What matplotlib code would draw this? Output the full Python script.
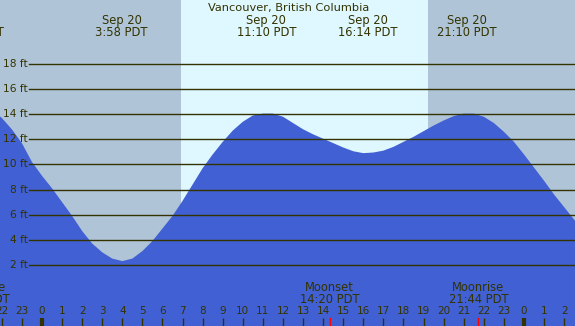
import numpy as np
import matplotlib
matplotlib.use("Agg")
import matplotlib.pyplot as plt

# tide heights (ft), every half hour (hours since Sep 20 00:00)
hours = [-2.5, -2.0, -1.5, -1.0, -0.5, 0.0, 0.5, 1.0, 1.5, 2.0, 2.5, 3.0, 3.5, 4.0,
         4.5, 5.0, 5.5, 6.0, 6.5, 7.0, 7.5, 8.0, 8.5, 9.0, 9.5, 10.0, 10.5, 11.0,
         11.5, 12.0, 12.5, 13.0, 13.5, 14.0, 14.5, 15.0, 15.5, 16.0, 16.5, 17.0,
         17.5, 18.0, 18.5, 19.0, 19.5, 20.0, 20.5, 21.0, 21.5, 22.0, 22.5, 23.0,
         23.5, 24.0, 24.5, 25.0, 25.5, 26.0, 26.5, 27.0]
heights = [14.4, 13.7, 12.8, 11.7, 10.2, 9.1, 8.1, 7.0, 5.9, 4.7, 3.7, 3.0, 2.5, 2.3,
           2.5, 3.1, 3.9, 4.9, 5.9, 7.1, 8.4, 9.7, 10.8, 11.8, 12.7, 13.4, 13.9, 14.05,
           14.05, 13.8, 13.3, 12.8, 12.4, 12.05, 11.7, 11.35, 11.05, 10.9, 10.95, 11.1,
           11.4, 11.8, 12.2, 12.65, 13.1, 13.5, 13.85, 14.05, 14.05, 13.8, 13.3, 12.6,
           11.8, 10.8, 9.75, 8.7, 7.6, 6.6, 5.6, 4.7]

# tide extremes shown on top
event_hours = [-3.4, 3.97, 11.17, 16.23, 21.17]
event_labels = ["Sep 19\n20:35 PDT", "Sep 20\n3:58 PDT", "Sep 20\n11:10 PDT",
                "Sep 20\n16:14 PDT", "Sep 20\n21:10 PDT"]

# moon events shown at the bottom
moon_hours = [-3.07, 14.33, 21.73]
moon_labels = ["Moonrise\n20:56 PDT", "Moonset\n14:20 PDT", "Moonrise\n21:44 PDT"]

sunrise = 6.92
sunset = 19.22
ft_levels = [2, 4, 6, 8, 10, 12, 14, 16, 18]
hour_ticks = list(range(-2, 27))

night = "#b0c4d8"
day = "#dff7ff"
water = "#4160d4"
ink = "#333300"

fig = plt.figure(figsize=(5.75, 3.26), dpi=100)
ax = fig.add_axes([0, 0, 1, 1])
x0, x1 = -2.09, 26.54
ax.set_xlim(x0, x1)
ax.set_ylim(-2.87, 23.1)
ax.axis("off")

ax.axvspan(x0, sunrise, color=night, lw=0)
ax.axvspan(sunrise, sunset, color=day, lw=0)
ax.axvspan(sunset, x1, color=night, lw=0)

ax.fill_between(hours, heights, -5, color=water, lw=0, zorder=2)

for lv in ft_levels:
    ax.plot([-0.65, x1], [lv, lv], color=ink, lw=1.0, zorder=3)
    ax.text(-0.72, lv, f"{lv} ft", ha="right", va="center", fontsize=7.7,
            color=ink, zorder=4)

ax.text(12.3, 22.45, "Vancouver, British Columbia", ha="center", va="center",
        fontsize=8.2, color=ink)
for h, lab in zip(event_hours, event_labels):
    ax.text(h, 21.0, lab, ha="center", va="center", fontsize=8.3, color=ink,
            linespacing=0.95)

for h, lab in zip(moon_hours, moon_labels):
    ax.text(h, -0.28, lab, ha="center", va="center", fontsize=8.3, color=ink,
            linespacing=0.95)
    ax.plot([h, h], [-2.25, -2.87], color="red", lw=1, zorder=4)

for h in hour_ticks:
    ax.text(h, -1.67, str(h % 24), ha="center", va="center", fontsize=7.5,
            color=ink)
    ax.plot([h, h], [-2.25, -2.87], color=ink, lw=3 if h % 24 == 0 else 1,
            solid_capstyle="butt", zorder=4)

fig.savefig("out.png", dpi=100)
